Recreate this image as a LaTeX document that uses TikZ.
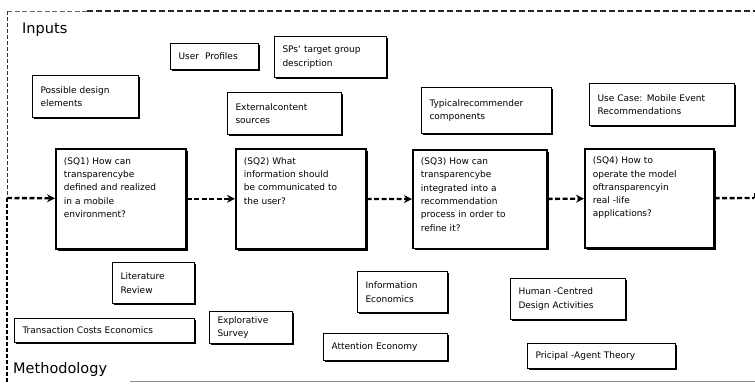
\documentclass[tikz,border=0pt]{standalone}
\usepackage{fontspec}
\setmainfont{DejaVu Sans}
\usetikzlibrary{arrows.meta,shadows}

\begin{document}
\begin{tikzpicture}[x=1pt,y=-1pt,
  box/.style={draw,fill=white,line width=1pt,anchor=north west,align=left,
    inner xsep=8pt,inner ysep=4pt,font=\fontsize{9}{13.5}\selectfont,
    general shadow={fill=black,shadow xshift=1.8pt,shadow yshift=-1.8pt}},
  sq/.style={box,line width=1.6pt,text width=114pt,minimum height=100pt,
    inner ysep=8pt,text depth=76pt,font=\fontsize{9}{13.3}\selectfont},
  flow/.style={line width=2.4pt,dash pattern=on 5pt off 2.5pt},
  head/.style={font=\fontsize{14.5}{16}\selectfont,anchor=west,inner sep=0pt}]
\useasboundingbox (0,0) rectangle (755,383);

\coordinate (tl) at (7,11);
\coordinate (tm) at (87,11);
\coordinate (tr) at (755,11);
\coordinate (split) at (7,198);
\coordinate (bl) at (7,383);
\coordinate (end) at (754,198);
\coordinate (endtop) at (754,193);
\coordinate (gl) at (130,381);
\coordinate (gr) at (755,381);

\draw[black!60,line width=0.9pt,dash pattern=on 5pt off 2.5pt] (tl)--(tm);
\draw[black!85,line width=1.5pt,dash pattern=on 6pt off 3pt] (tm)--(tr);
\draw[black!80,line width=0.9pt,dash pattern=on 4pt off 2pt] (tl)--(split);
\draw[line width=1.8pt,dash pattern=on 4pt off 2pt] (split)--(bl);
\draw[black!45,line width=1pt] (gl)--(gr);

\node[head] (inputs) at (22,30) {Inputs};
\node[head] (meth) at (13,369) {Methodology};

\node[box,text width=72pt,minimum height=26pt] (prof) at (170,43) {User\ \ Profiles};
\node[box,text width=96pt,minimum height=41pt] (sps) at (274,36) {SPs‘ target group\\description};
\node[box,text width=90pt,minimum height=42pt] (design) at (32,75) {Possible design\\elements};
\node[box,text width=98pt,minimum height=42pt] (ext) at (227,92) {Externalcontent\\sources};
\node[box,text width=114pt,minimum height=46pt] (typ) at (421,87) {Typicalrecommender\\components};
\node[box,text width=129pt,minimum height=42pt] (use) at (589,83) {Use Case: Mobile Event\\Recommendations};

\node[sq] (sq1) at (55,148) {(SQ1) How can\\transparencybe\\defined and realized\\in a mobile\\environment?};
\node[sq] (sq2) at (235,148) {(SQ2) What\\information should\\be communicated to\\the user?};
\node[sq,text width=118pt,minimum height=98pt] (sq3) at (412,149) {(SQ3) How can\\transparencybe\\integrated into a\\recommendation\\process in order to\\refine it?};
\node[sq,text width=113pt,minimum height=99pt] (sq4) at (584,148) {(SQ4) How to\\operate the model\\oftransparencyin\\real -life\\applications?};

\node[box,text width=66pt,minimum height=41pt] (lit) at (112,262) {Literature\\Review};
\node[box,text width=164pt,minimum height=24pt] (tce) at (14,318) {Transaction Costs Economics};
\node[box,text width=67pt,minimum height=32pt] (surv) at (209,311) {Explorative\\Survey};
\node[box,text width=74pt,minimum height=41pt] (info) at (357,271) {Information\\Economics};
\node[box,text width=108pt,minimum height=27pt] (att) at (323,333) {Attention Economy};
\node[box,text width=99pt,minimum height=41pt] (hcd) at (510,278) {Human -Centred\\Design Activities};
\node[box,text width=132pt,minimum height=25pt] (pat) at (527,343) {Pricipal -Agent Theory};

\draw[flow,-{Stealth[length=8pt,width=8pt]}] (split)--(sq1);
\draw[flow,-{Stealth[length=8pt,width=8pt]}] (sq1)--(sq2);
\draw[flow,-{Stealth[length=8pt,width=8pt]}] (sq2)--(sq3);
\draw[flow,-{Stealth[length=8pt,width=8pt]}] (sq3)--(sq4);
\draw[flow] (sq4)--(end);
\draw[line width=0.8pt] (endtop)--(end);
\end{tikzpicture}
\end{document}
